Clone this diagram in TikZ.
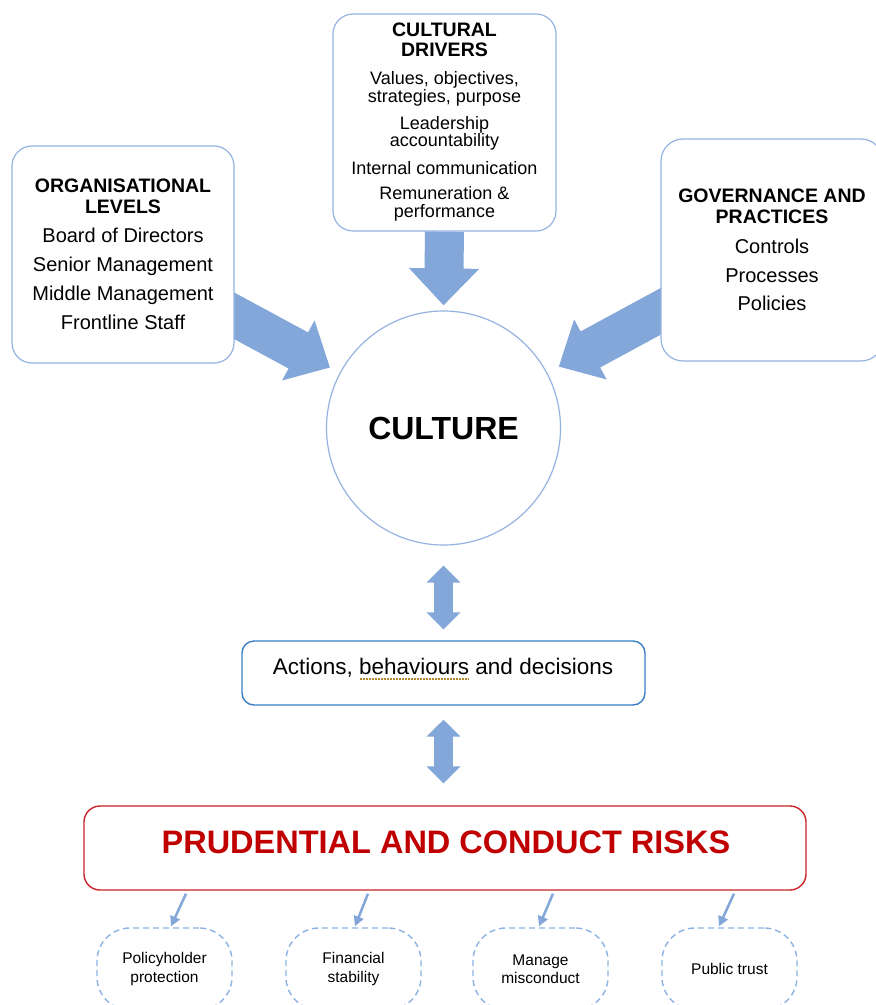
\documentclass[tikz,border=0pt]{standalone}
\usepackage{fontspec}
\setmainfont{Liberation Sans}
\usetikzlibrary{arrows.meta,calc,backgrounds}
\definecolor{boxblue}{HTML}{95B3E0}
\definecolor{arrowblue}{HTML}{82A7D8}
\definecolor{midblue}{HTML}{3A7FC6}
\definecolor{riskred}{HTML}{C00000}
\definecolor{riskborder}{HTML}{CC2229}
\definecolor{dashblue}{HTML}{8DB3E2}
\definecolor{squiggle}{HTML}{B8862E}
\newcommand{\ttlfont}{\fontsize{19.5}{20}\selectfont\bfseries}
\begin{document}
\begin{tikzpicture}[x=1pt,y=-1pt,
  box/.style={draw=boxblue, line width=1.2pt, fill=white, rounded corners=20pt, inner sep=0pt, align=center},
  bigarrow/.style={draw=arrowblue, line width=41pt, -{Triangle[length=36pt,width=66pt]}},
  dblarrow/.style={draw=arrowblue, line width=19pt, {Triangle[length=17pt,width=33pt]}-{Triangle[length=17pt,width=33pt]}},
  smallarrow/.style={draw=arrowblue, line width=2.5pt, -{Triangle[length=10pt,width=10pt]}},
  goal/.style={draw=dashblue, line width=1.4pt, dash pattern=on 6pt off 4pt, rounded corners=33pt, minimum width=135pt, minimum height=82pt, inner sep=0pt, align=center, font=\fontsize{15.5}{18.5}\selectfont}
]
\useasboundingbox (0,0) rectangle (876,1005);

% boxes
\node[box, minimum width=223pt, minimum height=217pt, font=\fontsize{18}{18}\selectfont] (drivers) at (444.5,122.5)
  {\ttlfont CULTURAL\\[2pt]\ttlfont DRIVERS\\[10pt]Values, objectives,\\strategies, purpose\\[9pt]Leadership\\[-1pt]accountability\\[10pt]Internal communication\\[7pt]Remuneration \&\\performance};
\node[box, minimum width=222pt, minimum height=217pt, font=\fontsize{20}{29}\selectfont] (org) at (123,254.5)
  {\ttlfont ORGANISATIONAL\\[-8pt]\ttlfont LEVELS\\Board of Directors\\Senior Management\\Middle Management\\Frontline Staff};
\node[box, rounded corners=22pt, minimum width=222pt, minimum height=222pt, font=\fontsize{20}{29}\selectfont] (gov) at (772,250)
  {\ttlfont GOVERNANCE AND\\[-8pt]\ttlfont PRACTICES\\[1pt]Controls\\Processes\\[-1pt]Policies};
\node[circle, draw=boxblue, line width=1.2pt, fill=white, minimum size=234pt, inner sep=0pt, font=\fontsize{32}{32}\selectfont\bfseries] (culture) at (443.5,428) {CULTURE};

\node[draw=midblue, line width=1.4pt, rounded corners=12pt, minimum width=403pt, minimum height=64pt, fill=white] (actions) at (443.5,673) {};
\node[anchor=base, font=\fontsize{22.5}{22.5}\selectfont] (actionstext) at (443,674) {Actions, behaviours and decisions};
\draw[squiggle, line width=1.3pt, dash pattern=on 1.5pt off 1.5pt] (360,679) -- (469,679);

\node[draw=riskborder, line width=1.4pt, rounded corners=16pt, minimum width=722pt, minimum height=84pt, fill=white] (risk) at (445,848) {};
\node[anchor=base, text=riskred, font=\fontsize{32.5}{32.5}\selectfont\bfseries] (risktext) at (446,853) {PRUDENTIAL AND CONDUCT RISKS};

\node[goal] (p1) at (164.5,969) {Policyholder\\protection};
\node[goal] (p2) at (353.5,969) {Financial\\stability};
\node[goal] (p3) at (540.5,969) {Manage\\misconduct};
\node[goal] (p4) at (729.5,969) {Public trust};

% connectors
\begin{scope}[on background layer]
\fill[white] (0,0) rectangle (876,1005);
\coordinate (orgtail) at ($(org.east)+(0,61.5)$);
\coordinate (govtail) at ($(gov.west)+(0,61.5)$);
\draw[bigarrow, shorten >=11pt] ($(orgtail)!-30pt!(culture.152)$) -- (culture.152);
\draw[bigarrow, shorten >=13pt] ($(govtail)!-30pt!(culture.28)$) -- (culture.28);
\draw[bigarrow, line width=39pt, -{Triangle[length=37pt,width=68pt]}, shorten >=5pt] (drivers.south) -- (culture.north);
\end{scope}

\draw[dblarrow, shorten <=20pt, shorten >=11pt] (culture.south) -- (culture.south |- actions.north);
\draw[dblarrow, shorten <=14pt, shorten >=22pt] (actions.south) -- (actions.south |- risk.north);

\draw[smallarrow] ($(risk.south -| p1.north)+(21.5,3)$) -- ($(p1.north)+(6.5,-1)$);
\draw[smallarrow] ($(risk.south -| p2.north)+(14.5,3)$) -- ($(p2.north)+(1.5,-1)$);
\draw[smallarrow] ($(risk.south -| p3.north)+(12.5,3)$) -- ($(p3.north)+(-1.5,-1)$);
\draw[smallarrow] ($(risk.south -| p4.north)+(4.5,3)$) -- ($(p4.north)+(-10.5,-1)$);
\end{tikzpicture}
\end{document}
